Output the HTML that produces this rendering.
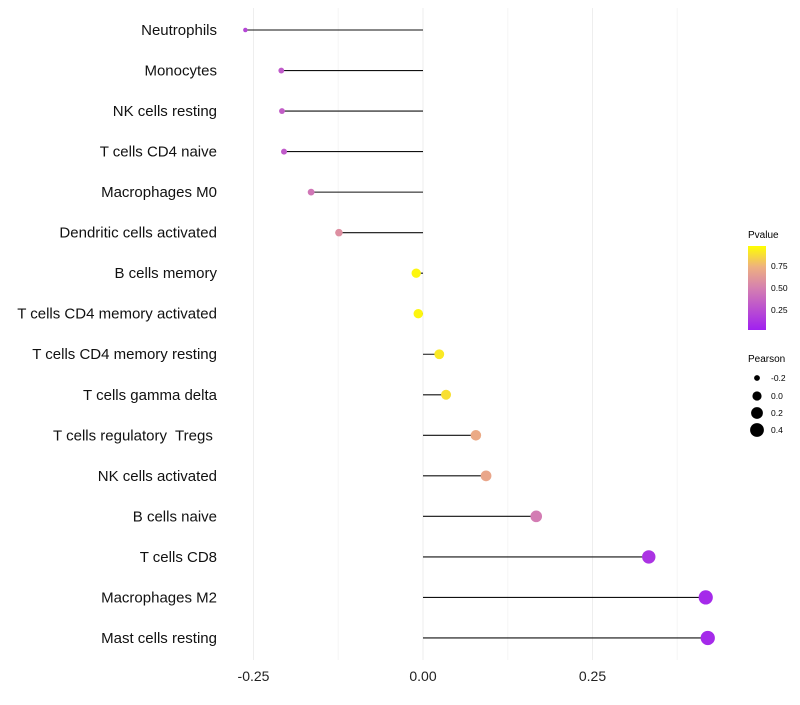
<!DOCTYPE html>
<html><head><meta charset="utf-8"><style>
body{margin:0;background:#fff;font-family:"Liberation Sans",sans-serif}
svg text{font-family:"Liberation Sans",sans-serif;white-space:pre}
</style></head><body>
<svg id="chart" width="800" height="700">
<defs><linearGradient id="pg" x1="0" y1="1" x2="0" y2="0">
<stop offset="0" stop-color="#a020f0"/><stop offset="0.5" stop-color="#d580b0"/><stop offset="0.75" stop-color="#eeb080"/><stop offset="1" stop-color="#ffff00"/></linearGradient></defs>
<g id="grid"></g><g id="marks"></g><g id="labels"></g>
<g>
<text x="748" y="238" font-size="10">Pvalue</text>
<rect x="748" y="246" width="18" height="84" fill="url(#pg)"/>
<text x="771" y="269" font-size="8.5">0.75</text>
<text x="771" y="291" font-size="8.5">0.50</text>
<text x="771" y="313" font-size="8.5">0.25</text>
</g>
<g>
<text x="748" y="362" font-size="10">Pearson</text>
<circle cx="757" cy="378" r="2.9"/><text x="771" y="381" font-size="8.5">-0.2</text>
<circle cx="757" cy="396" r="4.6"/><text x="771" y="399" font-size="8.5">0.0</text>
<circle cx="757" cy="413" r="5.9"/><text x="771" y="416" font-size="8.5">0.2</text>
<circle cx="757" cy="430" r="6.9"/><text x="771" y="433" font-size="8.5">0.4</text>
</g>
</svg>
<script>
const categories=["Neutrophils","Monocytes","NK cells resting","T cells CD4 naive","Macrophages M0","Dendritic cells activated","B cells memory","T cells CD4 memory activated","T cells CD4 memory resting","T cells gamma delta","T cells regulatory  Tregs ","NK cells activated","B cells naive","T cells CD8","Macrophages M2","Mast cells resting"];
const pearson=[-0.262,-0.209,-0.208,-0.205,-0.165,-0.124,-0.010,-0.007,0.024,0.034,0.078,0.093,0.167,0.333,0.417,0.420];
const pvalue=[0.2,0.3,0.32,0.3,0.45,0.58,0.97,0.97,0.93,0.9,0.72,0.7,0.48,0.1,0.05,0.05];
const ticks=[-0.25,0,0.25];
const tickLabels=["-0.25","0.00","0.25"];
const NS="http://www.w3.org/2000/svg";
const x=v=>423+v*678;
const y=i=>30+i*40.53;
const rad=v=>Math.sqrt(Math.max(2.5,5+67*(v+0.2625)));
function lerp(a,b,t){return a.map((c,k)=>Math.round(c+(b[k]-c)*t));}
const stops=[[0,[160,32,240]],[0.5,[213,128,176]],[0.75,[238,176,128]],[1,[255,255,0]]];
function col(p){for(let k=0;k<stops.length-1;k++){const[a,ca]=stops[k],[b,cb]=stops[k+1];if(p<=b){const c=lerp(ca,cb,(p-a)/(b-a));return`rgb(${c})`;}}return"rgb(255,255,0)";}
function mk(t,a,parent){const e=document.createElementNS(NS,t);for(const k in a)e.setAttribute(k,a[k]);parent.appendChild(e);return e;}
const grid=document.getElementById("grid"),marks=document.getElementById("marks"),labels=document.getElementById("labels");
[-0.25,-0.125,0,0.125,0.25,0.375].forEach(t=>{
 const l=mk("line",{x1:x(t),x2:x(t),y1:8,y2:660,stroke:t%0.25===0?"#eeeeee":"#f5f5f5","stroke-width":1},grid);
 
 
});
ticks.forEach((t,i)=>{
 const tx=mk("text",{x:x(t),y:681,"font-size":14,"text-anchor":"middle",fill:"#222"},labels);
 tx.textContent=tickLabels[i];
 
 
});
categories.forEach((c,i)=>{
 const tx=mk("text",{x:217,y:y(i)+5,"font-size":15,"text-anchor":"end",fill:"#111"},labels);
 tx.textContent=c;
 
 
 const ln=mk("line",{x1:x(0),x2:x(pearson[i]),y1:y(i),y2:y(i),stroke:"#111","stroke-width":1.1},marks);
 
 
 const d=mk("circle",{cx:x(pearson[i]),cy:y(i),r:rad(pearson[i]),fill:col(pvalue[i])},marks);
 
 
});
</script>
</body></html>
